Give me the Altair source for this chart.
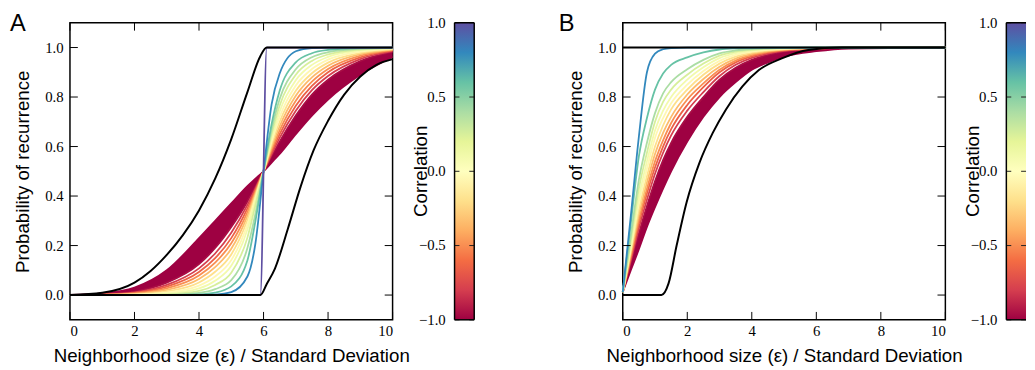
import altair as alt
import pandas as pd

# ---------------- styling constants / tick arrays ----------------
SPECTRAL = ["#9e0142", "#d53e4f", "#f46d43", "#fdae61", "#fee08b", "#ffffbf",
            "#e6f598", "#abdda4", "#66c2a5", "#3288bd", "#5e4fa2"]
CB_DOMAIN = [-1, -0.8, -0.6, -0.4, -0.2, 0, 0.2, 0.4, 0.6, 0.8, 1]
X_TICKS = [0, 2, 4, 6, 8, 10]
Y_TICKS = [0, 0.2, 0.4, 0.6, 0.8, 1.0]
CB_TICKS = [-1, -0.5, 0, 0.5, 1]
CB_LABELS = ["−1.0", "−0.5", "0.0", "0.5", "1.0"]
X_TITLE = "Neighborhood size (ε) / Standard Deviation"
Y_TITLE = "Probability of recurrence"
CB_TITLE = "Correlation"

# ---------------- panel A data ----------------
A_X = [0, 1, 2, 3, 4, 4.5, 5, 5.5, 5.75, 6, 6.25, 6.5, 7, 7.5, 8, 9, 10]
A_M100 = [0.001, 0.007, 0.03, 0.1, 0.23, 0.3, 0.37, 0.44, 0.47, 0.5, 0.535, 0.57, 0.65, 0.725, 0.79, 0.89, 0.962]
A_M096 = [0, 0.003, 0.014, 0.05, 0.125, 0.19, 0.275, 0.378, 0.44, 0.5, 0.56, 0.62, 0.725, 0.81, 0.87, 0.945, 0.982]
A_M080 = [0, 0.002, 0.011, 0.041, 0.108, 0.168, 0.252, 0.364, 0.432, 0.5, 0.568, 0.635, 0.745, 0.828, 0.885, 0.953, 0.985]
A_M065 = [0, 0.002, 0.009, 0.034, 0.093, 0.149, 0.23, 0.35, 0.425, 0.5, 0.577, 0.65, 0.765, 0.845, 0.9, 0.96, 0.988]
A_M050 = [0, 0.001, 0.007, 0.027, 0.079, 0.131, 0.209, 0.335, 0.418, 0.5, 0.587, 0.665, 0.785, 0.862, 0.913, 0.967, 0.99]
A_M035 = [0, 0.001, 0.005, 0.021, 0.065, 0.113, 0.187, 0.32, 0.41, 0.5, 0.597, 0.682, 0.805, 0.879, 0.926, 0.973, 0.992]
A_M020 = [0, 0, 0.003, 0.015, 0.051, 0.094, 0.164, 0.303, 0.402, 0.5, 0.608, 0.7, 0.825, 0.896, 0.939, 0.978, 0.994]
A_M005 = [0, 0, 0.002, 0.01, 0.038, 0.075, 0.141, 0.285, 0.393, 0.5, 0.62, 0.72, 0.847, 0.913, 0.951, 0.983, 0.996]
A_P010 = [0, 0, 0.001, 0.006, 0.027, 0.058, 0.118, 0.265, 0.383, 0.5, 0.634, 0.742, 0.868, 0.93, 0.962, 0.988, 0.997]
A_P025 = [0, 0, 0, 0.003, 0.017, 0.041, 0.09, 0.232, 0.365, 0.5, 0.65, 0.766, 0.89, 0.946, 0.972, 0.992, 0.998]
A_P040 = [0, 0, 0, 0.001, 0.009, 0.024, 0.06, 0.19, 0.33, 0.5, 0.668, 0.792, 0.912, 0.961, 0.981, 0.995, 0.999]
A_P060 = [0, 0, 0, 0, 0.003, 0.01, 0.035, 0.14, 0.3, 0.5, 0.69, 0.825, 0.94, 0.977, 0.99, 0.998, 1]
A_P080 = [0, 0, 0, 0, 0, 0.002, 0.012, 0.075, 0.21, 0.5, 0.77, 0.895, 0.985, 0.998, 1, 1, 1]
A_P100_X = [0, 5.9, 6.1, 10]
A_P100_Y = [0, 0, 1, 1]
A_BLK1_X = [0, 1, 2, 2.5, 3, 3.5, 4, 4.5, 5, 5.5, 5.9, 6.1, 10]
A_BLK1_Y = [0, 0.009, 0.05, 0.097, 0.162, 0.242, 0.342, 0.47, 0.63, 0.82, 0.965, 1, 1]
A_BLK2_X = [0, 5.9, 6.1, 6.35, 6.75, 7.15, 7.55, 8, 8.5, 9, 9.5, 10]
A_BLK2_Y = [0, 0, 0.045, 0.106, 0.266, 0.438, 0.584, 0.704, 0.81, 0.883, 0.93, 0.953]

# ---------------- panel B data ----------------
B_X = [0, 0.25, 0.5, 0.75, 1, 1.25, 1.5, 2, 2.5, 3, 3.5, 4, 4.5, 5, 6, 7, 10]
B_M100 = [0.012, 0.1, 0.185, 0.275, 0.355, 0.43, 0.5, 0.62, 0.72, 0.8, 0.86, 0.91, 0.94, 0.963, 0.985, 0.996, 1]
B_M096 = [0.012, 0.13, 0.25, 0.36, 0.46, 0.545, 0.615, 0.72, 0.8, 0.87, 0.918, 0.95, 0.97, 0.983, 0.994, 0.999, 1]
B_M080 = [0.012, 0.14, 0.27, 0.385, 0.49, 0.575, 0.645, 0.745, 0.82, 0.885, 0.93, 0.958, 0.975, 0.986, 0.995, 0.999, 1]
B_M065 = [0.012, 0.15, 0.29, 0.41, 0.515, 0.6, 0.67, 0.768, 0.84, 0.9, 0.94, 0.964, 0.979, 0.988, 0.996, 1, 1]
B_M050 = [0.012, 0.16, 0.305, 0.43, 0.54, 0.625, 0.695, 0.79, 0.855, 0.91, 0.947, 0.969, 0.982, 0.99, 0.997, 1, 1]
B_M035 = [0.012, 0.17, 0.325, 0.455, 0.57, 0.655, 0.72, 0.81, 0.873, 0.922, 0.955, 0.974, 0.985, 0.992, 0.998, 1, 1]
B_M020 = [0.012, 0.18, 0.345, 0.48, 0.6, 0.685, 0.75, 0.83, 0.89, 0.935, 0.963, 0.979, 0.988, 0.994, 0.999, 1, 1]
B_M005 = [0.012, 0.19, 0.37, 0.51, 0.635, 0.715, 0.775, 0.85, 0.905, 0.946, 0.97, 0.983, 0.991, 0.995, 0.999, 1, 1]
B_P010 = [0.012, 0.2, 0.395, 0.54, 0.665, 0.745, 0.8, 0.87, 0.92, 0.957, 0.977, 0.987, 0.994, 0.997, 1, 1, 1]
B_P025 = [0.012, 0.22, 0.43, 0.575, 0.7, 0.78, 0.83, 0.89, 0.935, 0.967, 0.983, 0.991, 0.996, 0.998, 1, 1, 1]
B_P040 = [0.012, 0.24, 0.465, 0.615, 0.735, 0.815, 0.86, 0.912, 0.95, 0.976, 0.988, 0.994, 0.997, 0.999, 1, 1, 1]
B_P060 = [0.012, 0.29, 0.56, 0.715, 0.83, 0.895, 0.93, 0.96, 0.98, 0.992, 0.997, 0.999, 1, 1, 1, 1, 1]
B_P080 = [0.012, 0.32, 0.64, 0.9, 0.975, 0.993, 0.998, 1, 1, 1, 1, 1, 1, 1, 1, 1, 1]
B_BLK1_X = [0, 10]
B_BLK1_Y = [1, 1]
B_BLK2_X = [0, 1.2, 1.42, 1.67, 1.98, 2.38, 2.79, 3.2, 3.71, 4.22, 4.93, 5.75, 6.8, 10]
B_BLK2_Y = [0, 0, 0.047, 0.2, 0.375, 0.535, 0.655, 0.75, 0.843, 0.909, 0.956, 0.99, 1.0, 1.0]

A_SERIES = [(-1.0, A_M100), (-0.96, A_M096), (-0.8, A_M080), (-0.65, A_M065), (-0.5, A_M050),
            (-0.35, A_M035), (-0.2, A_M020), (-0.05, A_M005), (0.1, A_P010), (0.25, A_P025),
            (0.4, A_P040), (0.6, A_P060), (0.8, A_P080)]
B_SERIES = [(-1.0, B_M100), (-0.96, B_M096), (-0.8, B_M080), (-0.65, B_M065), (-0.5, B_M050),
            (-0.35, B_M035), (-0.2, B_M020), (-0.05, B_M005), (0.1, B_P010), (0.25, B_P025),
            (0.4, B_P040), (0.6, B_P060), (0.8, B_P080)]

W, H = 328, 302
SANS = "Liberation Sans"
SERIF = "Liberation Serif"


def lines_frame(xgrid, series, extra):
    rows = []
    k = 0
    for corr, ys in series:
        for x, y in zip(xgrid, ys):
            rows.append({"x": x, "y": y, "corr": corr, "k": k})
        k += 1
    for corr, xs, ys in extra:
        for x, y in zip(xs, ys):
            rows.append({"x": x, "y": y, "corr": corr, "k": k})
        k += 1
    return pd.DataFrame(rows)


def panel(label, label_x, xgrid, series, extra, band_lo, band_hi, blacks):
    xsc = alt.Scale(domain=[0, 10], nice=False, zero=False)
    ysc = alt.Scale(domain=[-0.1, 1.1], nice=False, zero=False)
    xax = alt.Axis(values=X_TICKS, format="d", title=X_TITLE, grid=False, ticks=False, tickSize=0,
                   domain=False, labelFont=SERIF, labelFontSize=15, labelColor="black",
                   labelPadding=4, titleFont=SANS, titleFontSize=19, titleFontWeight="normal",
                   titleColor="black", titleY=42, titleBaseline="alphabetic")
    yax = alt.Axis(values=Y_TICKS, format=".1f", title=Y_TITLE, grid=False, ticks=False, tickSize=0,
                   domain=False, labelFont=SERIF, labelFontSize=15, labelColor="black",
                   labelPadding=7, titleFont=SANS, titleFontSize=19, titleFontWeight="normal",
                   titleColor="black", titleX=-42, titleY=H / 2, titleAngle=270,
                   titleBaseline="alphabetic", titleAlign="center")
    X = lambda f: alt.X(f, scale=xsc, axis=xax)
    Y = lambda f: alt.Y(f, scale=ysc, axis=yax)
    band_df = pd.DataFrame({"x": xgrid, "lo": band_lo, "hi": band_hi})
    band = alt.Chart(band_df).mark_area(interpolate="monotone", color="#9e0142", opacity=1).encode(
        x=X("x:Q"), y=Y("lo:Q"), y2="hi:Q")
    ldf = lines_frame(xgrid, series, extra)
    lines = alt.Chart(ldf).mark_line(interpolate="monotone", strokeWidth=1.8).encode(
        x=X("x:Q"), y=Y("y:Q"),
        color=alt.Color("corr:Q", scale=alt.Scale(domain=CB_DOMAIN, range=SPECTRAL, interpolate="rgb"),
                        legend=None),
        detail="k:N", order="x:Q")
    brows = []
    for i, (xs, ys) in enumerate(blacks):
        for x, y in zip(xs, ys):
            brows.append({"x": x, "y": y, "name": "b%d" % i})
    black = alt.Chart(pd.DataFrame(brows)).mark_line(interpolate="monotone", strokeWidth=2,
                                                     color="black").encode(
        x=X("x:Q"), y=Y("y:Q"), detail="name:N", order="x:Q")
    xt = pd.DataFrame({"x": X_TICKS})
    yt = pd.DataFrame({"y": Y_TICKS})
    tk_top = alt.Chart(xt).mark_rule(color="black", strokeWidth=1).encode(
        x=X("x:Q"), y=alt.value(0), y2=alt.value(8))
    tk_bot = alt.Chart(xt).mark_rule(color="black", strokeWidth=1).encode(
        x=X("x:Q"), y=alt.value(H - 8), y2=alt.value(H))
    tk_l = alt.Chart(yt).mark_rule(color="black", strokeWidth=1).encode(
        y=Y("y:Q"), x=alt.value(0), x2=alt.value(8))
    tk_r = alt.Chart(yt).mark_rule(color="black", strokeWidth=1).encode(
        y=Y("y:Q"), x=alt.value(W - 8), x2=alt.value(W))
    lab = alt.Chart(pd.DataFrame({"t": [label]})).mark_text(
        align="left", baseline="alphabetic", font=SANS, fontSize=24, color="black").encode(
        text="t:N", x=alt.value(label_x), y=alt.value(8))
    return alt.layer(band, lines, black, tk_top, tk_bot, tk_l, tk_r, lab).properties(
        width=W, height=H, view=alt.ViewBackground(stroke="black", strokeWidth=1.5))


def colorbar(width, bar_x, bar_w, right_border):
    ysc = alt.Scale(domain=[-1, 1], nice=False, zero=False)
    grad = alt.Gradient(gradient="linear",
                        stops=[alt.GradientStop(color=c, offset=i / (len(SPECTRAL) - 1))
                               for i, c in enumerate(SPECTRAL)],
                        x1=0, x2=0, y1=1, y2=0)
    rect = alt.Chart(pd.DataFrame({"lo": [-1], "hi": [1]})).mark_rect(fill=grad, strokeWidth=0).encode(
        y=alt.Y("lo:Q", scale=ysc, axis=None), y2="hi:Q",
        x=alt.value(bar_x), x2=alt.value(bar_x + bar_w))
    tdf = pd.DataFrame({"v": CB_TICKS, "lab": CB_LABELS})
    tl = alt.Chart(tdf).mark_rule(color="#222222", strokeWidth=1).encode(
        y=alt.Y("v:Q", scale=ysc, axis=None), x=alt.value(bar_x), x2=alt.value(bar_x + 5))
    tr = alt.Chart(tdf).mark_rule(color="#222222", strokeWidth=1).encode(
        y=alt.Y("v:Q", scale=ysc, axis=None), x=alt.value(bar_x + 15), x2=alt.value(bar_x + 20))
    labels = alt.Chart(tdf).mark_text(align="right", baseline="middle", font=SERIF, fontSize=15,
                                      color="black").encode(
        y=alt.Y("v:Q", scale=ysc, axis=None), x=alt.value(bar_x - 9), text="lab:N")
    title = alt.Chart(pd.DataFrame({"t": [CB_TITLE]})).mark_text(
        angle=270, align="center", baseline="alphabetic", font=SANS, fontSize=19,
        color="black").encode(text="t:N", x=alt.value(bar_x - 28), y=alt.value(H / 2))
    one = pd.DataFrame({"d": [0]})
    edges = [
        alt.Chart(one).mark_rule(color="black", strokeWidth=1.5).encode(
            x=alt.value(bar_x), y=alt.value(0), y2=alt.value(H)),
        alt.Chart(one).mark_rule(color="black", strokeWidth=1.5).encode(
            x=alt.value(bar_x), x2=alt.value(bar_x + bar_w), y=alt.value(0)),
        alt.Chart(one).mark_rule(color="black", strokeWidth=1.5).encode(
            x=alt.value(bar_x), x2=alt.value(bar_x + bar_w), y=alt.value(H)),
    ]
    if right_border:
        edges.append(alt.Chart(one).mark_rule(color="black", strokeWidth=1.5).encode(
            x=alt.value(bar_x + bar_w), y=alt.value(0), y2=alt.value(H)))
    return alt.layer(rect, tl, tr, labels, title, *edges).properties(
        width=width, height=H, view=alt.ViewBackground(stroke=None))


panel_a = panel("A", -61, A_X, A_SERIES, [(1.0, A_P100_X, A_P100_Y)], A_M100, A_M096,
                [(A_BLK1_X, A_BLK1_Y), (A_BLK2_X, A_BLK2_Y)])
panel_b = panel("B", -65, B_X, B_SERIES, [], B_M100, B_M096,
                [(B_BLK1_X, B_BLK1_Y), (B_BLK2_X, B_BLK2_Y)])
cbar_a = colorbar(234, 63, 20, True)
cbar_b = colorbar(73, 62, 20, False)

chart = alt.hconcat(panel_a, cbar_a, panel_b, cbar_b, spacing=0, bounds="flush").properties(
    padding={"left": 1, "top": 0, "right": 0, "bottom": 0}
).configure_view(stroke=None)

chart.save("out.html", embed_options={"renderer": "svg", "actions": False})
